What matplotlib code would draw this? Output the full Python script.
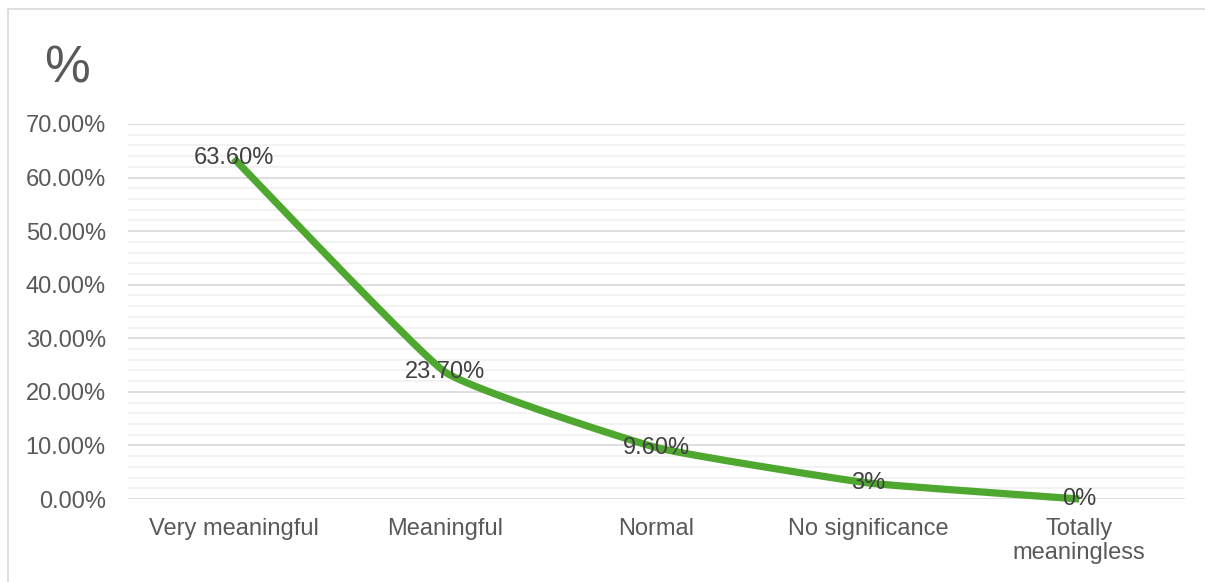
import numpy as np
import matplotlib
matplotlib.use("Agg")
import matplotlib.pyplot as plt
from matplotlib.patches import Rectangle

categories = ["Very meaningful", "Meaningful", "Normal", "No significance", "Totally\nmeaningless"]
values = [63.6, 23.7, 9.6, 3.0, 0.0]
value_labels = ["63.60%", "23.70%", "9.60%", "3%", "0%"]
y_ticks = [0, 10, 20, 30, 40, 50, 60, 70]

plt.rcParams["font.family"] = ["Liberation Sans", "DejaVu Sans"]

W, H = 1205, 582
fig = plt.figure(figsize=(W / 100, H / 100), dpi=100)

# chart frame (left and top edges visible)
fig.patches.append(Rectangle((8 / W, -0.1), 1.2, 1 - 9 / H + 0.1, transform=fig.transFigure,
                             fill=False, edgecolor="#d9d9d9", linewidth=1.2))

left, right = 128 / W, 1185 / W
top, bottom = 1 - 124 / H, 1 - 499 / H
ax = fig.add_axes([left, bottom, right - left, top - bottom])

x = np.arange(len(values))
ax.set_xlim(-0.5, len(values) - 0.5)
ax.set_ylim(0, 70)


def smooth(xs, ys, k=0.06, n=40):
    # cubic Bezier through the points with short tangents (lightly rounded corners)
    xs = np.asarray(xs, float)
    ys = np.asarray(ys, float)
    px = np.concatenate([[xs[0]], xs, [xs[-1]]])
    py = np.concatenate([[ys[0]], ys, [ys[-1]]])
    ox, oy = [], []
    t = np.linspace(0, 1, n)
    for i in range(1, len(px) - 2):
        p0 = np.array([px[i], py[i]])
        p3 = np.array([px[i + 1], py[i + 1]])
        p1 = p0 + (np.array([px[i + 1], py[i + 1]]) - np.array([px[i - 1], py[i - 1]])) * k
        p2 = p3 - (np.array([px[i + 2], py[i + 2]]) - np.array([px[i], py[i]])) * k
        b = ((1 - t) ** 3)[:, None] * p0 + (3 * (1 - t) ** 2 * t)[:, None] * p1 \
            + (3 * (1 - t) * t ** 2)[:, None] * p2 + (t ** 3)[:, None] * p3
        ox.extend(b[:, 0])
        oy.extend(b[:, 1])
    return np.array(ox), np.array(oy)


sx, sy = smooth(x, values)
ax.plot(sx, sy, color="#4ea72e", linewidth=5.2, solid_capstyle="butt", zorder=3, clip_on=False)

for xi, v, lab in zip(x, values, value_labels):
    ax.text(xi, v, lab, ha="center", va="center", fontsize=17, color="#404040", zorder=4)

# gridlines
for m in np.arange(0, 70.1, 2):
    if m % 10 == 0:
        ax.axhline(m, color="#d9d9d9", linewidth=1.2, zorder=1)
    else:
        ax.axhline(m, color="#f0f0f0", linewidth=1.2, zorder=1)

for s in ax.spines.values():
    s.set_visible(False)

ax.set_yticks(y_ticks)
ax.set_yticklabels([f"{t:.2f}%" for t in y_ticks])
ax.set_xticks(x)
ax.set_xticklabels(categories, linespacing=1.1)
ax.tick_params(axis="both", length=0, labelsize=17, labelcolor="#595959")
ax.tick_params(axis="y", pad=16)
ax.tick_params(axis="x", pad=14)

fig.text(67 / W, 1 - 69 / H, "%", fontsize=37, color="#595959", ha="center", va="center")

fig.savefig("out.png", dpi=100, facecolor="white")
